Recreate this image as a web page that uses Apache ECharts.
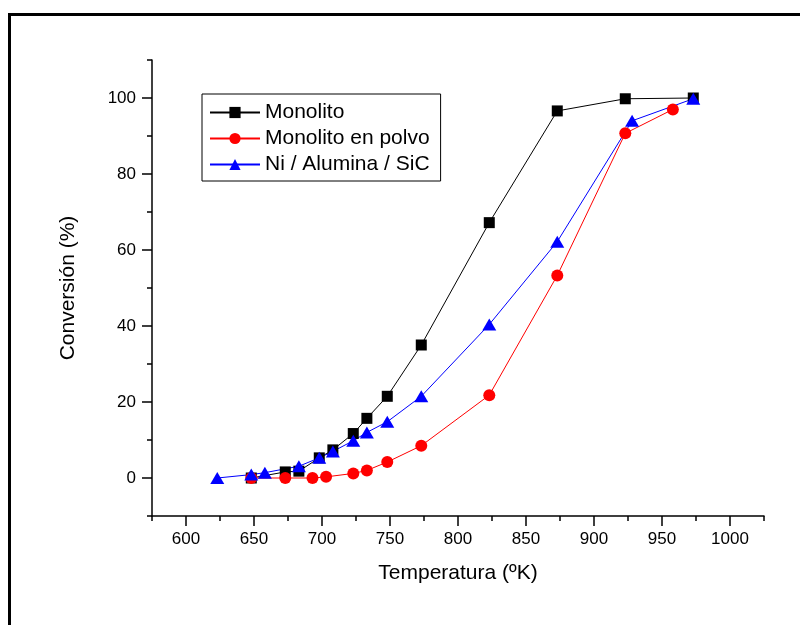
<!DOCTYPE html>
<html>
<head>
<meta charset="utf-8">
<script src="https://cdn.jsdelivr.net/npm/echarts@6/dist/echarts.min.js"></script>
<style>
  html, body { margin: 0; padding: 0; background: #fff; }
  #chart { width: 800px; height: 625px; }
</style>
</head>
<body>
<div id="chart"></div>
<script>
// Temperatures (K) and conversion (%) for each catalyst
const tempMonolito = [648, 673, 683, 698, 708, 723, 733, 748, 773, 823, 873, 923, 973];
const convMonolito = [0, 1.6, 1.8, 5.3, 7.4, 11.7, 15.7, 21.5, 35, 67.2, 96.6, 99.8, 100];

const tempPolvo = [648, 673, 693, 703, 723, 733, 748, 773, 823, 873, 923, 958];
const convPolvo = [0, 0, 0, 0.3, 1.2, 2, 4.2, 8.5, 21.8, 53.3, 90.7, 97];

const tempNi = [623, 648, 658, 683, 698, 708, 723, 733, 748, 773, 823, 873, 928, 973];
const convNi = [0, 0.9, 1.4, 3.1, 5.3, 7, 9.8, 12, 14.8, 21.5, 40.4, 62.2, 94, 99.8];

const seriesNames = ['Monolito', 'Monolito en polvo', 'Ni / Alumina / SiC'];

const xMajorTicks = [600, 650, 700, 750, 800, 850, 900, 950, 1000];
const yMajorTicks = [0, 20, 40, 60, 80, 100];

const FONT = '"Liberation Sans", Arial, Helvetica, sans-serif';
const pairs = (xs, ys) => xs.map((x, i) => [x, ys[i]]);

const chart = echarts.init(document.getElementById('chart'), null, { renderer: 'canvas' });

const axisLine = { show: true, onZero: false, lineStyle: { color: '#000', width: 1.5 } };

chart.setOption({
  animation: false,
  backgroundColor: '#fff',
  textStyle: { fontFamily: FONT, color: '#000' },
  graphic: [{
    type: 'rect',
    shape: { x: 9.5, y: 14.5, width: 820, height: 700 },
    style: { fill: 'none', stroke: '#000', lineWidth: 3 },
    silent: true
  }],
  grid: { left: 152, right: 36, top: 60, bottom: 109, containLabel: false },
  legend: {
    orient: 'vertical',
    left: 202,
    top: 94,
    itemWidth: 50,
    itemHeight: 14,
    itemGap: 5,
    padding: [8, 11, 6, 7],
    borderColor: '#000',
    borderWidth: 1,
    backgroundColor: '#fff',
    textStyle: { fontFamily: FONT, fontSize: 21, color: '#000', lineHeight: 20 },
    data: seriesNames
  },
  xAxis: [{
    type: 'value',
    min: 575, max: 1025, interval: 25,
    name: 'Temperatura (ºK)',
    nameLocation: 'middle',
    nameGap: 47,
    nameTextStyle: { fontFamily: FONT, fontSize: 21, color: '#000' },
    axisLine: axisLine,
    axisTick: { show: true, length: 5, lineStyle: { color: '#000', width: 1.5 } },
    axisLabel: {
      fontFamily: FONT, fontSize: 17, color: '#000', margin: 15,
      formatter: v => (v % 50 === 0 && v >= 600 && v <= 1000) ? String(v) : ''
    },
    splitLine: { show: false }
  }, {
    // longer ticks at the labelled temperatures
    type: 'value',
    position: 'bottom',
    min: 575, max: 1025,
    axisLine: { show: false, onZero: false },
    axisTick: { show: true, length: 10, customValues: xMajorTicks, lineStyle: { color: '#000', width: 1.5 } },
    axisLabel: { show: false },
    splitLine: { show: false }
  }],
  yAxis: [{
    type: 'value',
    min: -10, max: 110, interval: 10,
    name: 'Conversión (%)',
    nameLocation: 'middle',
    nameGap: 73,
    nameTextStyle: { fontFamily: FONT, fontSize: 21, color: '#000' },
    axisLine: axisLine,
    axisTick: { show: true, length: 5, lineStyle: { color: '#000', width: 1.5 } },
    axisLabel: {
      fontFamily: FONT, fontSize: 17, color: '#000', margin: 16,
      formatter: v => (v % 20 === 0 && v >= 0 && v <= 100) ? String(v) : ''
    },
    splitLine: { show: false }
  }, {
    // longer ticks at the labelled conversions
    type: 'value',
    position: 'left',
    min: -10, max: 110,
    axisLine: { show: false, onZero: false },
    axisTick: { show: true, length: 10, customValues: yMajorTicks, lineStyle: { color: '#000', width: 1.5 } },
    axisLabel: { show: false },
    splitLine: { show: false }
  }],
  series: [{
    name: seriesNames[0],
    type: 'line',
    data: pairs(tempMonolito, convMonolito),
    symbol: 'rect',
    symbolSize: 11,
    itemStyle: { color: '#000' },
    lineStyle: { color: '#000', width: 1 }
  }, {
    name: seriesNames[1],
    type: 'line',
    data: pairs(tempPolvo, convPolvo),
    symbol: 'circle',
    symbolSize: 12,
    itemStyle: { color: '#ff0000' },
    lineStyle: { color: '#ff0000', width: 1 }
  }, {
    name: seriesNames[2],
    type: 'line',
    data: pairs(tempNi, convNi),
    symbol: 'triangle',
    symbolSize: [14, 12],
    itemStyle: { color: '#0000ff' },
    lineStyle: { color: '#0000ff', width: 1 }
  }]
});
</script>
</body>
</html>
